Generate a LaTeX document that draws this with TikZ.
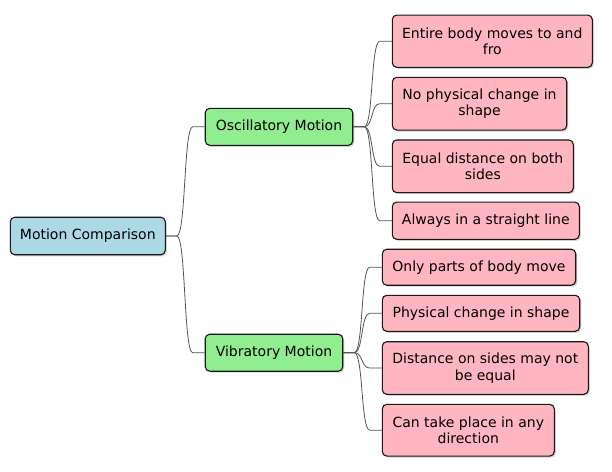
\documentclass[tikz,border=0pt]{standalone}
\usepackage{fontspec}
\setmainfont{DejaVu Sans}
\usetikzlibrary{shadows}
\definecolor{rootc}{HTML}{ADD8E6}
\definecolor{midc}{HTML}{90EE90}
\definecolor{leafc}{HTML}{FFB6C1}
\definecolor{edgec}{HTML}{181818}
\definecolor{linkc}{HTML}{555555}
\tikzset{
  box/.style={draw=edgec, line width=1.1pt, rounded corners=4.5pt, align=center,
    inner sep=0pt, font=\fontsize{14}{16.3}\selectfont,
    drop shadow={shadow xshift=1.5pt, shadow yshift=-1.5pt, fill=black, opacity=0.18}},
  rootbox/.style={box, fill=rootc},
  midbox/.style={box, fill=midc},
  leafbox/.style={box, fill=leafc},
  link/.style={draw=linkc, line width=0.8pt}
}
\newcommand{\bx}[2]{minimum width=#1pt, minimum height=#2pt}
\begin{document}
\begin{tikzpicture}[x=1pt, y=-1pt]
\useasboundingbox (0,0) rectangle (612,471);
\node[rootbox, minimum width=155pt, minimum height=37.5pt] (root) at (87.8,236) {Motion Comparison};
\node[midbox, minimum width=147.5pt, minimum height=37pt] (osc) at (279,126.8) {Oscillatory Motion};
\node[midbox, minimum width=137.5pt, minimum height=37pt] (vib) at (274,352.7) {Vibratory Motion};

\node[leafbox, minimum width=200pt, minimum height=52.3pt] (o1) at (492.3,41.2) {Entire body moves to and\\fro};
\node[leafbox, minimum width=174.4pt, minimum height=52.7pt] (o2) at (479.5,103.7) {No physical change in\\shape};
\node[leafbox, minimum width=181pt, minimum height=52.7pt] (o3) at (482.8,166.3) {Equal distance on both\\sides};
\node[leafbox, minimum width=187pt, minimum height=37.3pt] (o4) at (485.8,220.7) {Always in a straight line};

\node[leafbox, minimum width=193.4pt, minimum height=36pt] (v1) at (479,267.2) {Only parts of body move};
\node[leafbox, minimum width=197.4pt, minimum height=36pt] (v2) at (481,313.3) {Physical change in shape};
\node[leafbox, minimum width=206pt, minimum height=52.6pt] (v3) at (485.3,368) {Distance on sides may not\\be equal};
\node[leafbox, minimum width=172pt, minimum height=51.7pt] (v4) at (468.3,430.2) {Can take place in any\\direction};

\foreach \p/\c in {root/osc, root/vib, osc/o1, osc/o2, osc/o3, osc/o4, vib/v1, vib/v2, vib/v3, vib/v4}{
  \draw[link] (\p.east) -- ++(11,0) .. controls +(9,0) and +(-9,0) .. ([xshift=-12pt]\c.west) -- (\c.west);
}
\end{tikzpicture}
\end{document}
